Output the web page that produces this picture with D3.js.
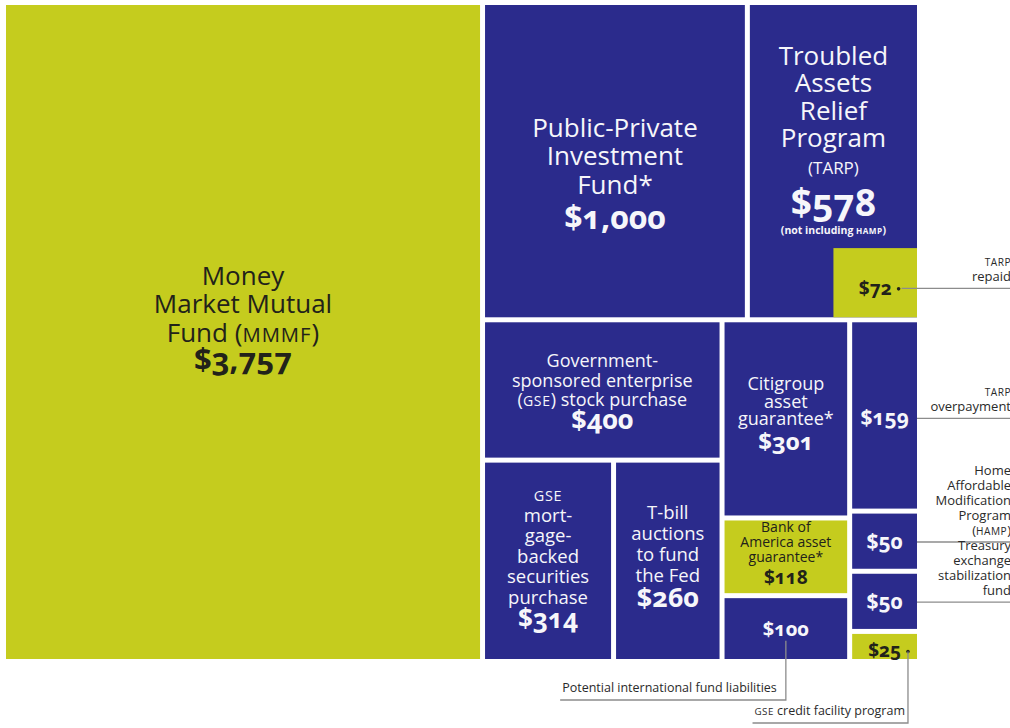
<!DOCTYPE html>
<html lang="en">
<head>
<meta charset="UTF-8">
<title>Federal financial commitments</title>
<style>
  body { margin: 0; background: #fff; }
  svg { display: block; font-family: "Open Sans", sans-serif; }
  .cell text { text-anchor: middle; font-feature-settings: "onum"; }
  .leader { fill: none; stroke: #8c8c8c; stroke-width: 1.3px; }
  .note { font-size: 13px; fill: #2a2a2a; }
</style>
</head>
<body>
<svg width="1010" height="728"></svg>
<script src="https://d3js.org/d3.v7.min.js"></script>
<script>
// programmes, billions of dollars, in layout order
const programs = ["Money Market Mutual Fund", "Public-Private Investment Fund", "TARP", "TARP repaid",
  "GSE stock purchase", "GSE mortgage-backed securities purchase", "T-bill auctions to fund the Fed",
  "Citigroup asset guarantee", "Bank of America asset guarantee", "Potential international fund liabilities",
  "TARP overpayment", "HAMP", "Treasury exchange stabilization fund", "GSE credit facility program"];
const amounts = [3757, 1000, 578, 72, 400, 314, 260, 301, 118, 100, 159, 50, 50, 25];
const groups = ["a", "b", "b", "a", "b", "b", "b", "b", "a", "b", "b", "b", "b", "a"];

// label rows inside each cell; "$" = the amount, "s:" = sub line, "f:" = footnote line, |x| = small caps
const labelRows = [
  ["Money", "Market Mutual", "Fund (|mmmf|)", "$"],
  ["Public-Private", "Investment", "Fund*", "$"],
  ["Troubled", "Assets", "Relief", "Program", "s:(TARP)", "$", "f:(not including |hamp|)"],
  ["$"],
  ["Government-", "sponsored enterprise", "(|gse|) stock purchase", "$"],
  ["|gse|", "mort-", "gage-", "backed", "securities", "purchase", "$"],
  ["T-bill", "auctions", "to fund", "the Fed", "$"],
  ["Citigroup", "asset", "guarantee*", "$"],
  ["Bank of", "America asset", "guarantee*", "$"],
  ["$"], ["$"], ["$"], ["$"], ["$"]
];

// how the cells nest: dice = side by side, slice = stacked, corner = small cell in bottom-right
const layout = {tile: "dice", children: [0, {tile: "slice", children: [
  {tile: "dice", children: [1, {tile: "corner", children: [2, 3]}]},
  {tile: "dice", children: [
    {tile: "slice", children: [4, {tile: "dice", children: [5, 6]}]},
    {tile: "slice", children: [7, 8, 9]},
    {tile: "slice", children: [10, 11, 12, 13]}
  ]}
]}]};

const sideNotes = [
  {i: 3, lines: ["|tarp|", "repaid"]},
  {i: 10, lines: ["|tarp|", "overpayment"]},
  {i: 11, lines: ["Home", "Affordable", "Modification", "Program", "(|hamp|)"]},
  {i: 12, lines: ["Treasury", "exchange", "stabilization", "fund"]}
];
const bottomNotes = [
  {i: 9, text: "Potential international fund liabilities", drop: 700},
  {i: 13, text: "|gse| credit facility program", drop: 723}
];
const dotted = [3, 13];

// label styles: t title size, lh title line height, v value size, vg gap to value, dy nudge
const styles = {
  0: {t: 26, lh: 28.5, v: 31, vg: 28, dy: -14},
  1: {t: 26, lh: 28.5, v: 32, vg: 35, dy: 12},
  2: {t: 26, lh: 27.5, v: 37, vg: 42, s: 17, sg: 27, f: 10.5, fg: 18, dy: -21},
  3: {v: 19, dy: 5},
  4: {t: 18, lh: 19.5, v: 27, vg: 23, dy: 2},
  5: {t: 18.5, lh: 20.6, v: 26, vg: 24, dy: -3},
  6: {t: 18.5, lh: 21, v: 27, vg: 25, dy: -4},
  7: {t: 18, lh: 17.5, v: 24, vg: 25, dy: -5},
  8: {t: 14, lh: 15, v: 19, vg: 22, dy: -4},
  9: {v: 20, dy: 0},
  10: {v: 21, dy: 2},
  11: {v: 21, dy: 0},
  12: {v: 21, dy: 0},
  13: {v: 19, dy: 4}
};

const fill = d3.scaleOrdinal().domain(["a", "b"]).range(["#c5cc1e", "#2b2b8c"]);
const ink = d3.scaleOrdinal().domain(["a", "b"]).range(["#22221a", "#f6f6fa"]);
const money = v => "$" + d3.format(",")(v);

function tile(node, x0, y0, x1, y1) {
  if (node.data.tile === "corner") {
    const [big, small] = node.children;
    Object.assign(big, {x0, y0, x1, y1});
    const w = (x1 - x0) / 2;
    const h = small.value / node.value * (x1 - x0) * (y1 - y0) / w;
    Object.assign(small, {x0: x1 - w, y0: y1 - h, x1, y1});
  } else {
    (node.data.tile === "slice" ? d3.treemapSlice : d3.treemapDice)(node, x0, y0, x1, y1);
  }
}

const root = d3.hierarchy(layout, d => d.children)
  .sum(d => typeof d === "number" ? amounts[d] : 0);

d3.treemap()
  .tile(tile)
  .size([911, 654])
  .paddingInner(n => n.data.tile === "corner" ? 0 : 5)(root);

const svg = d3.select("svg");
const g = svg.append("g").attr("transform", "translate(6,5)");
const leaves = root.leaves();
const byIndex = {};
leaves.forEach(d => byIndex[d.data] = d);

// append a line (tspan) to a text, with |x| parts in small caps
function richLine(text, str, size, x, y) {
  const line = text.append("tspan").attr("x", x).attr("y", y).attr("font-size", size);
  str.split("|").forEach((seg, k) => {
    if (!seg) return;
    line.append("tspan")
      .attr("font-size", k % 2 ? size * 0.78 : size)
      .attr("letter-spacing", k % 2 ? "0.05em" : null)
      .text(k % 2 ? seg.toUpperCase() : seg);
  });
  return line;
}

const cells = g.selectAll("g.cell")
  .data(leaves)
  .join("g")
  .attr("class", "cell");

cells.append("rect")
  .attr("x", d => d.x0).attr("y", d => d.y0)
  .attr("width", d => d.x1 - d.x0).attr("height", d => d.y1 - d.y0)
  .attr("fill", d => fill(groups[d.data]));

const valuePos = {};

cells.each(function(d) {
  const i = d.data, st = styles[i], rows = labelRows[i];
  let y = 0;
  const placed = rows.map((r, k) => {
    let size, gap, kind;
    if (r === "$") { kind = "v"; size = st.v; gap = st.vg; }
    else if (r.startsWith("s:")) { kind = "s"; size = st.s; gap = st.sg; r = r.slice(2); }
    else if (r.startsWith("f:")) { kind = "f"; size = st.f; gap = st.fg; r = r.slice(2); }
    else { kind = "t"; size = st.t; gap = st.lh; }
    if (k === 0) y = size * 0.72; else y += gap;
    return {r, kind, size, y};
  });
  const h = placed[placed.length - 1].y;
  const cx = (d.x0 + d.x1) / 2;
  const oy = (d.y0 + d.y1) / 2 - h / 2 + st.dy;
  const t = d3.select(this).append("text").attr("fill", ink(groups[i]));
  placed.forEach(p => {
    if (p.kind === "v") {
      const s = t.append("tspan").attr("x", cx).attr("y", oy + p.y)
        .attr("font-size", p.size).attr("font-weight", 700)
        .text(money(amounts[i]));
      valuePos[i] = {x: cx, y: oy + p.y, size: p.size, w: s.node().getComputedTextLength()};
    } else {
      const line = richLine(t, p.r, p.size, cx, oy + p.y);
      if (p.kind === "f") line.attr("font-weight", 700);
    }
  });
});

// dots after amounts
dotted.forEach(i => {
  const v = valuePos[i];
  v.dot = v.x + v.w / 2 + 7;
  g.append("circle").attr("cx", v.dot).attr("cy", v.y - v.size * 0.3).attr("r", 1.8).attr("fill", "#22221a");
});

// notes on the right
const edge = 1011 - 6;
sideNotes.forEach(n => {
  const v = valuePos[n.i], d = byIndex[n.i];
  const ly = v.y - v.size * 0.32;
  const x0 = v.dot !== undefined ? v.dot + 3 : d.x1;
  g.append("line").attr("class", "leader")
    .attr("x1", x0).attr("x2", edge + 6).attr("y1", ly).attr("y2", ly);
  const t = g.append("text").attr("class", "note").attr("text-anchor", "end");
  const last = n.lines.length - 1;
  n.lines.forEach((s, k) => richLine(t, s, 13, edge, ly - 7 - (last - k) * 15));
});

// notes below
bottomNotes.forEach(n => {
  const v = valuePos[n.i];
  const hasDot = v.dot !== undefined;
  const vx = hasDot ? v.dot : v.x;
  const vy = hasDot ? v.y - v.size * 0.3 : v.y + 5;
  const dropY = n.drop - 5;
  const tx = vx - (hasDot ? 3 : 9);
  const t = g.append("text").attr("class", "note").attr("text-anchor", "end");
  richLine(t, n.text, 12.5, tx, dropY - 8);
  const w = t.node().getComputedTextLength();
  g.append("path").attr("class", "leader")
    .attr("d", `M${vx},${vy}V${dropY}H${tx - w - 2}`);
});
</script>
</body>
</html>
